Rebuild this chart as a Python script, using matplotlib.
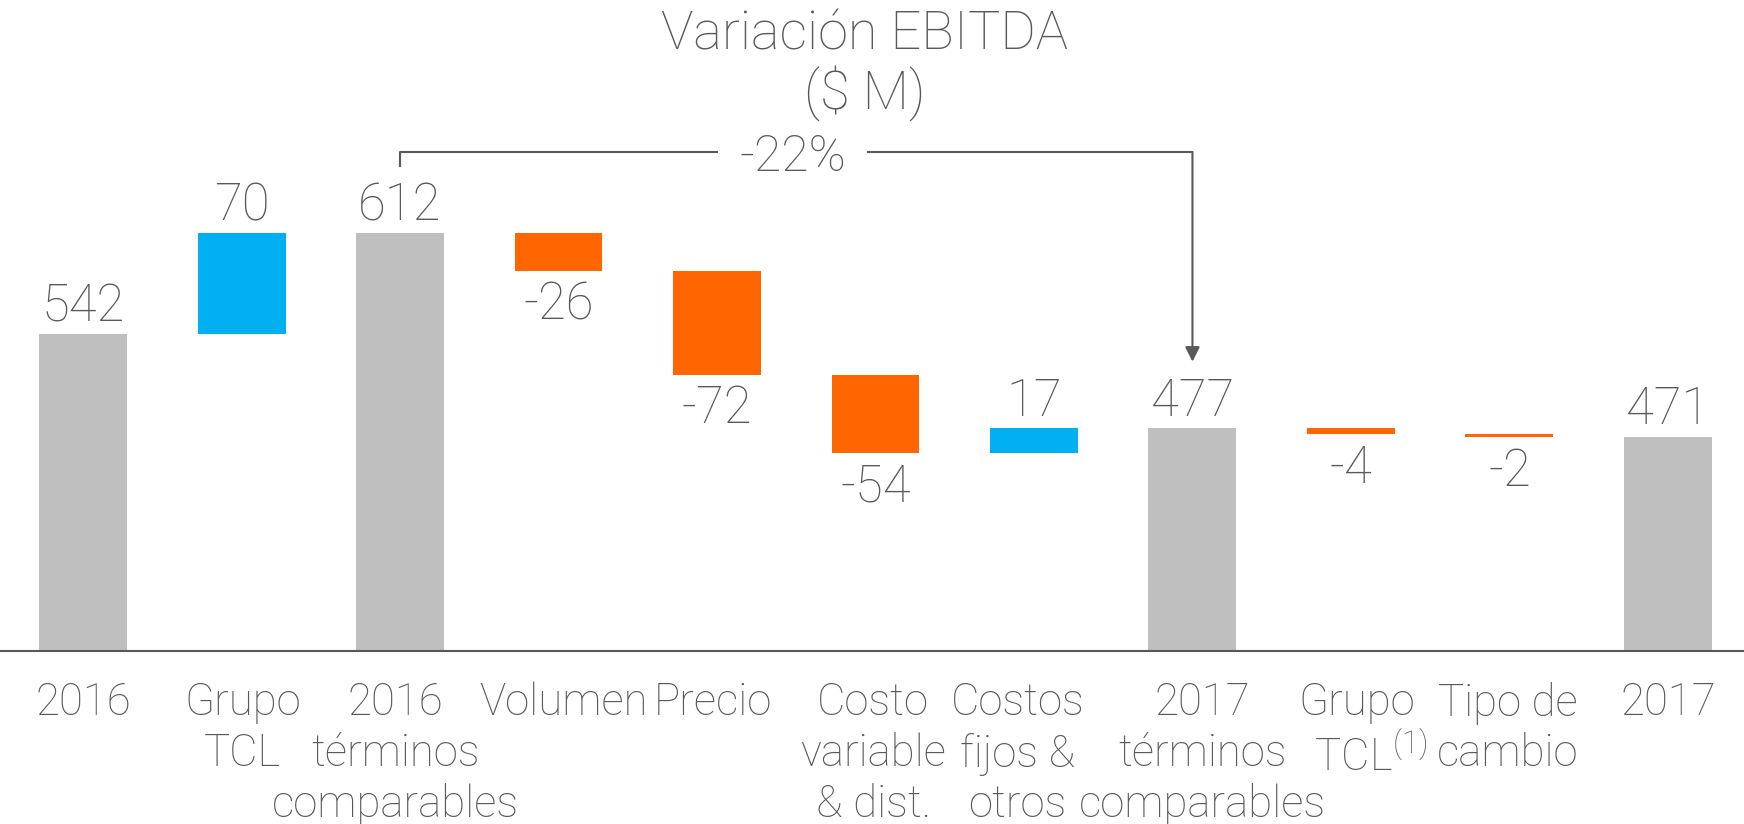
import matplotlib
matplotlib.use('Agg')
import matplotlib.pyplot as plt

plt.rcParams['font.family'] = ['Roboto', 'DejaVu Sans']
plt.rcParams['font.weight'] = 'light'
plt.rcParams['mathtext.fontset'] = 'custom'
plt.rcParams['mathtext.rm'] = 'Roboto:light'

# datos
categories = ['2016', 'Grupo\nTCL', '2016\ntérminos\ncomparables', 'Volumen', 'Precio',
              'Costo\nvariable\n& dist.', 'Costos\nfijos &\notros', '2017\ntérminos\ncomparables',
              'Grupo\n$\\hspace{0.65}$TCL$^{(1)}$', 'Tipo de\ncambio', '2017']
values = [542, 70, 612, -26, -72, -54, 17, 477, -4, -2, 471]
is_total = [True, False, True, False, False, False, False, True, False, False, True]
labels = ['542', '70', '612', '-26', '-72', '-54', '17', '477', '-4', '-2', '471']
change_pct = '-22%'

GRAY = '#BFBFBF'
BLUE = '#00B0F0'
ORANGE = '#FF6600'
TXT = '#595959'

# desplazamiento horizontal de cada etiqueta (puntos), como en la lamina original
label_shift = [0, 0.8, -3.2, 3.5, -3, -1.6, -12, 7.2, 4.2, -1.5, 0]

fig = plt.figure(figsize=(17.44, 8.24), dpi=100)
ax = fig.add_axes([0, 173 / 824, 1, 651 / 824])

x = list(range(len(categories)))
bottoms = []
heights = []
colors = []
running = 0
for v, t in zip(values, is_total):
    if t:
        running = v
        bottoms.append(0)
        heights.append(v)
        colors.append(GRAY)
    else:
        if v >= 0:
            bottoms.append(running)
            colors.append(BLUE)
        else:
            bottoms.append(running + v)
            colors.append(ORANGE)
        heights.append(abs(v))
        running += v

ax.bar(x, heights, bottom=bottoms, width=0.555, color=colors, zorder=2)

# etiquetas de valor
for i in x:
    if values[i] >= 0:
        ax.annotate(labels[i], (i, bottoms[i] + heights[i]), xytext=(0, 9),
                    textcoords='offset points', ha='center', va='baseline',
                    fontsize=36.5, color=TXT)
    else:
        ax.annotate(labels[i], (i, bottoms[i]), xytext=(0, -7),
                    textcoords='offset points', ha='center', va='top',
                    fontsize=36.5, color=TXT)

# etiquetas de categoria
for i in x:
    ax.annotate(categories[i], xy=(i, 0), xycoords=('data', 'axes fraction'),
                xytext=(label_shift[i], -22), textcoords='offset points',
                ha='center', va='top', fontsize=31.5, color=TXT, linespacing=1.25)

# corchete -22%
ax.plot([2, 2, 4.0], [658, 668, 668], color=TXT, lw=1.5, zorder=3)
ax.plot([4.95, 7], [668, 668], color=TXT, lw=1.5, zorder=3)
ax.annotate('', xy=(7, 523), xytext=(7, 668),
            arrowprops=dict(arrowstyle='-|>', color=TXT, lw=1.5, mutation_scale=22,
                            shrinkA=0, shrinkB=0))
ax.text(4.48, 668, change_pct, ha='center', va='center_baseline', fontsize=36, color=TXT)

ax.set_xlim(-0.524, 10.48)
ax.set_ylim(323, 773)
ax.set_xticks([])
ax.set_yticks([])
for s in ['top', 'right', 'left']:
    ax.spines[s].set_visible(False)
ax.spines['bottom'].set_color(TXT)
ax.spines['bottom'].set_linewidth(1.5)

fig.text(865 / 1744, 1 - 9 / 824, 'Variación EBITDA\n($ M)', ha='center', va='top',
         fontsize=39, color=TXT, linespacing=1.1)

fig.savefig('out.png', dpi=100)
